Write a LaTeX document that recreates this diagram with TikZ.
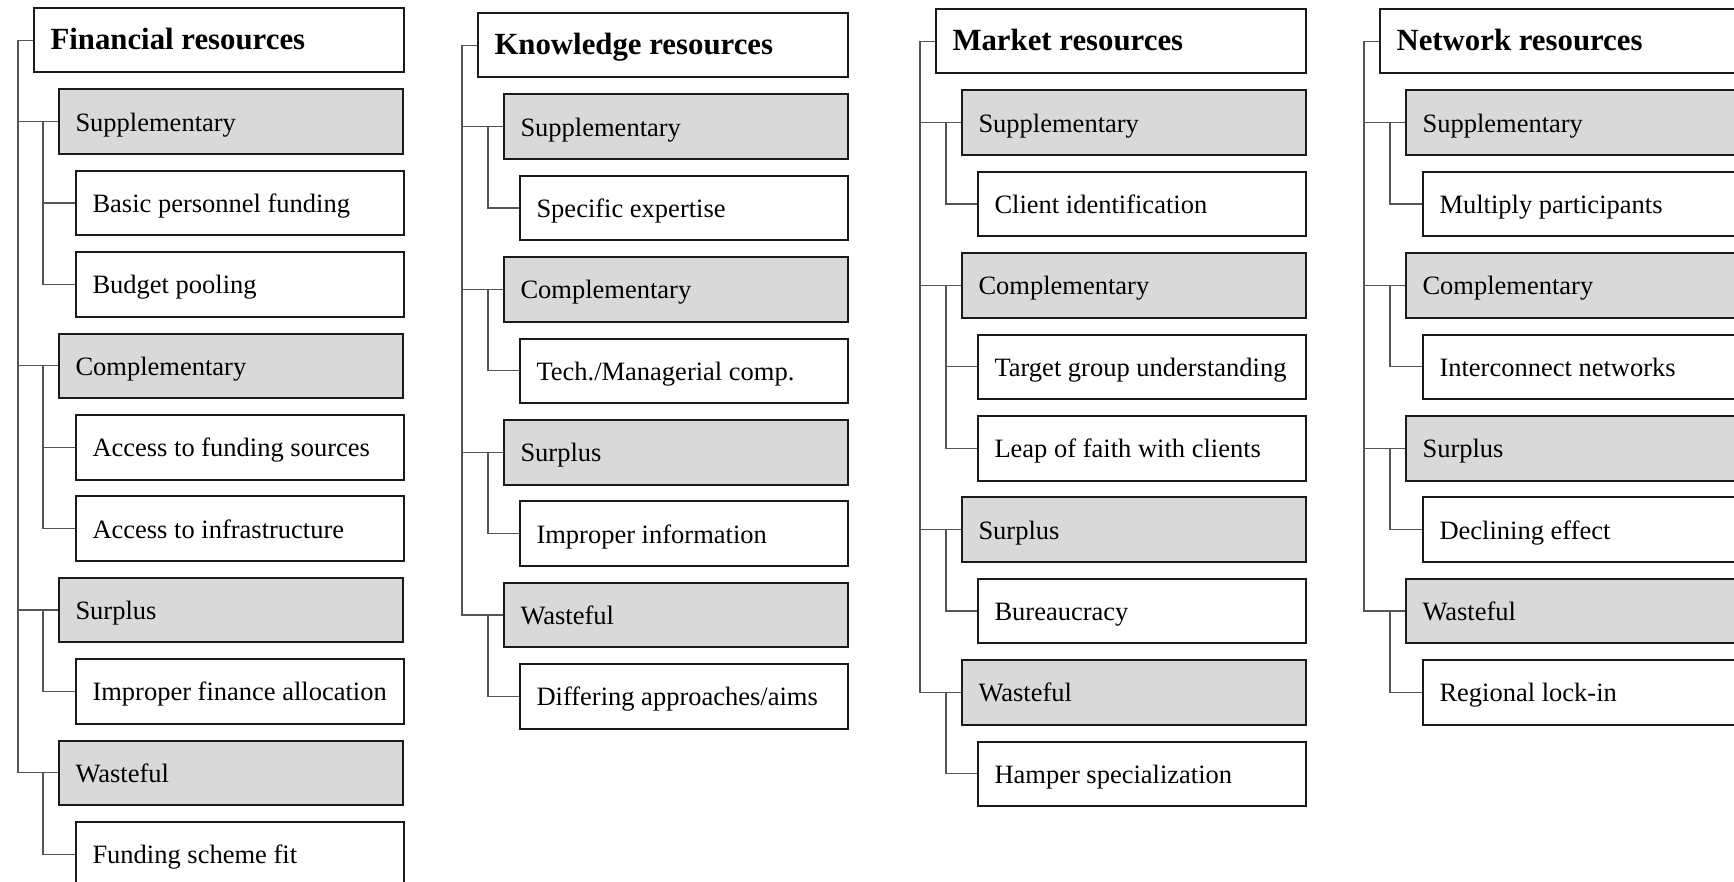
\documentclass[tikz,border=0pt]{standalone}
\usepackage{fontspec}
\setmainfont{Liberation Serif}
\definecolor{catgray}{HTML}{D9D9D9}
\definecolor{linkgray}{HTML}{555555}
\definecolor{boxline}{HTML}{1A1A1A}

\tikzset{
  box/.style={draw=boxline, line width=1pt, anchor=north west,
    inner xsep=4pt, minimum height=32.25pt, text height=10pt, text depth=0.5pt,
    execute at begin node={\spaceskip=.25em plus .1em\relax\noindent\hspace*{4.25pt}},
    font=\fontsize{13.25pt}{16pt}\selectfont},
  head/.style={box, minimum width=185pt, text width=177pt,
    font=\fontsize{15.4pt}{18pt}\selectfont\bfseries},
  cat/.style={box, fill=catgray, minimum width=172pt, text width=164pt},
  item/.style={box, fill=white, minimum width=164pt, text width=156pt},
  link/.style={draw=linkgray, line width=0.6pt}
}

\begin{document}
\begin{tikzpicture}[x=0.5pt,y=-0.5pt]

        \useasboundingbox (0,0) rectangle (1734,882);
        \clip (0,0) rectangle (1734,882);

        % Financial resources
        \node[head] (fHead)  at (33,7)     {Financial resources};
        \node[cat]  (fSupp)  at (58,88.4)  {Supplementary};
        \node[item] (fBasic) at (75,169.8) {Basic personnel funding};
        \node[item] (fPool)  at (75,251.2) {Budget pooling};
        \node[cat]  (fComp)  at (58,332.6) {Complementary};
        \node[item] (fAccF)  at (75,414)   {Access to funding sources};
        \node[item] (fAccI)  at (75,495.4) {Access to infrastructure};
        \node[cat]  (fSurp)  at (58,576.8) {Surplus};
        \node[item] (fImpr)  at (75,658.2) {Improper finance allocation};
        \node[cat]  (fWaste) at (58,739.6) {Wasteful};
        \node[item] (fFit)   at (75,821)   {Funding scheme fit};

        % Knowledge resources
        \node[head] (kHead)  at (477,12)    {Knowledge resources};
        \node[cat]  (kSupp)  at (503,93.4)  {Supplementary};
        \node[item] (kExp)   at (519,174.8) {Specific expertise};
        \node[cat]  (kComp)  at (503,256.2) {Complementary};
        \node[item] (kTech)  at (519,337.6) {Tech./Managerial comp.};
        \node[cat]  (kSurp)  at (503,419)   {Surplus};
        \node[item] (kImpr)  at (519,500.4) {Improper information};
        \node[cat]  (kWaste) at (503,581.8) {Wasteful};
        \node[item] (kDiff)  at (519,663.2) {Differing approaches/aims};

        % Market resources
        \node[head] (mHead)   at (935,8)     {Market resources};
        \node[cat]  (mSupp)   at (961,89.4)  {Supplementary};
        \node[item] (mClient) at (977,170.8) {Client identification};
        \node[cat]  (mComp)   at (961,252.2) {Complementary};
        \node[item] (mTarget) at (977,333.6) {Target group understanding};
        \node[item] (mLeap)   at (977,415)   {Leap of faith with clients};
        \node[cat]  (mSurp)   at (961,496.4) {Surplus};
        \node[item] (mBureau) at (977,577.8) {Bureaucracy};
        \node[cat]  (mWaste)  at (961,659.2) {Wasteful};
        \node[item] (mHamper) at (977,740.6) {Hamper specialization};

        % Network resources
        \node[head] (nHead)  at (1379,8)     {Network resources};
        \node[cat]  (nSupp)  at (1405,89.4)  {Supplementary};
        \node[item] (nMult)  at (1422,170.8) {Multiply participants};
        \node[cat]  (nComp)  at (1405,252.2) {Complementary};
        \node[item] (nInter) at (1422,333.6) {Interconnect networks};
        \node[cat]  (nSurp)  at (1405,415)   {Surplus};
        \node[item] (nDecl)  at (1422,496.4) {Declining effect};
        \node[cat]  (nWaste) at (1405,577.8) {Wasteful};
        \node[item] (nLock)  at (1422,659.2) {Regional lock-in};

        % Trunks
        \foreach \h/\c in {fHead/fSupp,fHead/fComp,fHead/fSurp,fHead/fWaste,
                           kHead/kSupp,kHead/kComp,kHead/kSurp,kHead/kWaste,
                           mHead/mSupp,mHead/mComp,mHead/mSurp,mHead/mWaste,
                           nHead/nSupp,nHead/nComp,nHead/nSurp,nHead/nWaste}
        {
            \draw[link] (\h.west) -- ++(-15,0) |- (\c.west);
        }

        % Branches
        \foreach \p/\c in {fSupp/fBasic,fSupp/fPool,fComp/fAccF,fComp/fAccI,
                           fSurp/fImpr,fWaste/fFit,
                           kSupp/kExp,kComp/kTech,kSurp/kImpr,kWaste/kDiff,
                           mSupp/mClient,mComp/mTarget,mComp/mLeap,
                           mSurp/mBureau,mWaste/mHamper,
                           nSupp/nMult,nComp/nInter,nSurp/nDecl,nWaste/nLock}
        {
            \draw[link] (\p.west) ++(-15,0) |- (\c.west);
        }

    \end{tikzpicture}
\end{document}
